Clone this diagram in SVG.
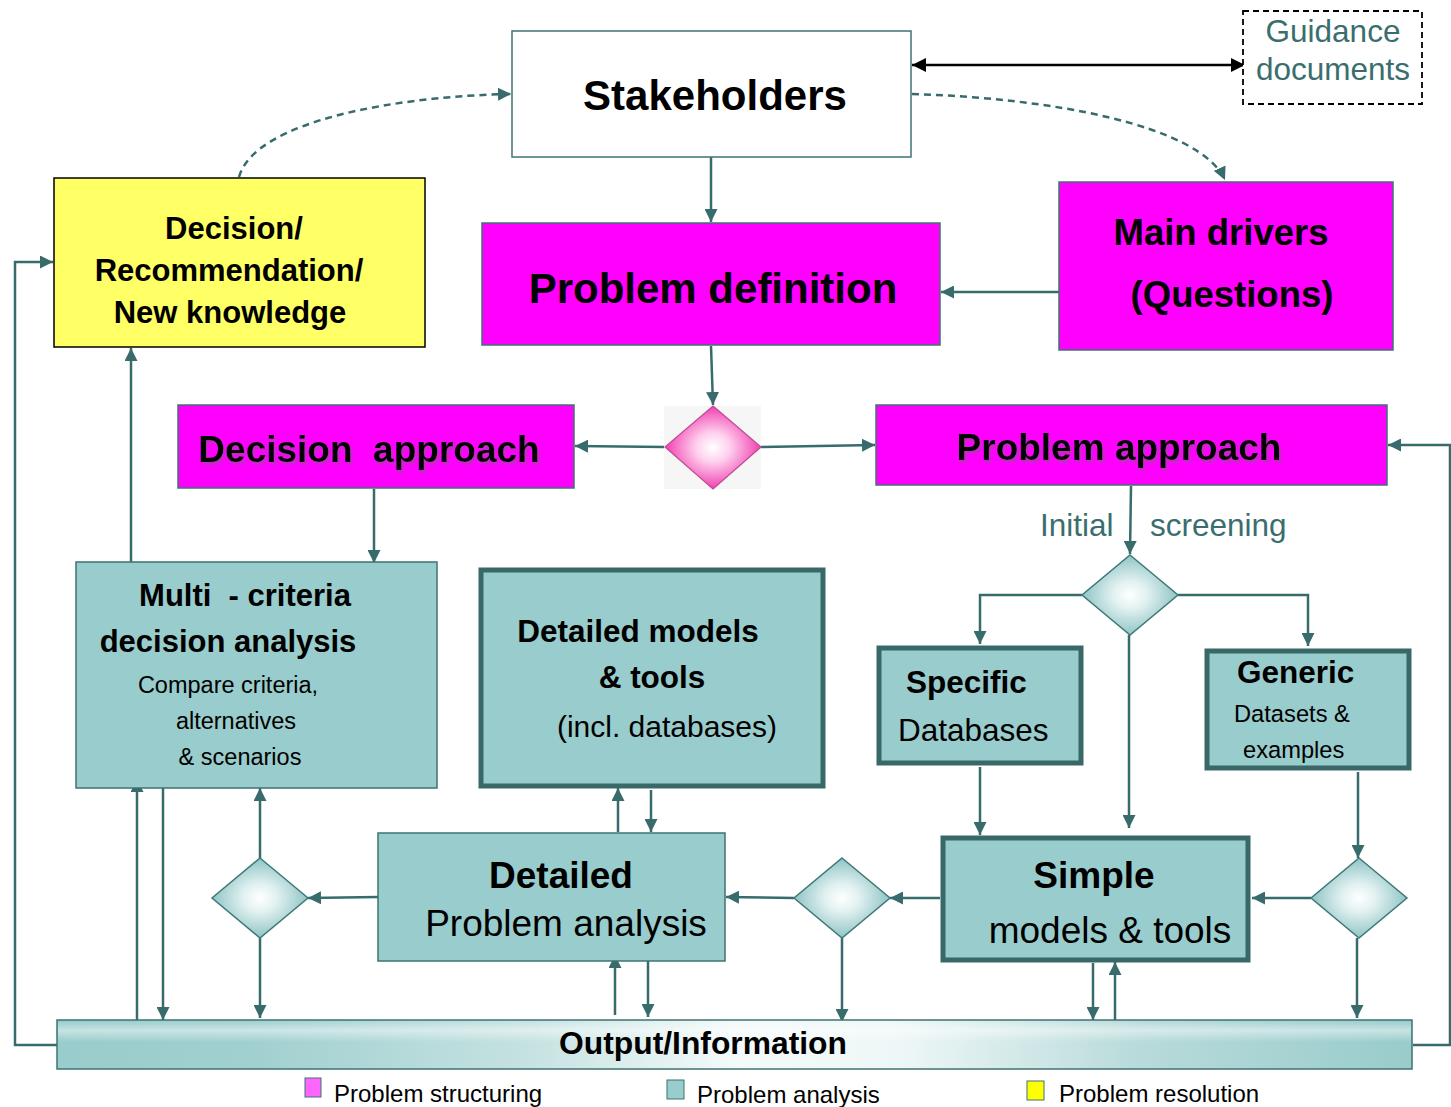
<svg xmlns="http://www.w3.org/2000/svg" width="1451" height="1107" viewBox="0 0 1451 1107">
<style>
text{font-family:"Liberation Sans",Arial,sans-serif;fill:#000}
.b{font-weight:bold}
.c{text-anchor:middle}
.teal{fill:#3a6e6e}
.conn{fill:none;stroke:#386b6b;stroke-width:2.5}
.box-thin{stroke:#3f7373;stroke-width:1.5}
.box-thick{fill:#99cccc;stroke:#386868;stroke-width:5}
.tealfill{fill:#99cccc}
.mag{fill:#ff00ff;stroke:#3f7373;stroke-width:1.5}
.dia{fill:url(#gT);stroke:#3f7878;stroke-width:1.5}
</style>
<defs>
<marker id="a" viewBox="0 0 12 12" refX="12" refY="6" markerWidth="13" markerHeight="13" markerUnits="userSpaceOnUse" orient="auto"><path d="M0,0 L12,6 L0,12 z" fill="#386b6b"/></marker>
<marker id="k" viewBox="0 0 12 12" refX="12" refY="6" markerWidth="14" markerHeight="14" markerUnits="userSpaceOnUse" orient="auto-start-reverse"><path d="M0,0 L12,6 L0,12 z" fill="#000"/></marker>
<radialGradient id="gT" cx="0.5" cy="0.5" r="0.5"><stop offset="0" stop-color="#ffffff"/><stop offset="0.35" stop-color="#e2f1f1"/><stop offset="1" stop-color="#8fc4c4"/></radialGradient>
<radialGradient id="gP" cx="0.5" cy="0.5" r="0.5"><stop offset="0" stop-color="#ffffff"/><stop offset="0.35" stop-color="#ffd0ee"/><stop offset="1" stop-color="#f040b0"/></radialGradient>
<linearGradient id="gO" x1="0" y1="0" x2="1" y2="0"><stop offset="0" stop-color="#99cccc"/><stop offset="0.15" stop-color="#a2d0d0"/><stop offset="0.35" stop-color="#c6e2e2"/><stop offset="0.5" stop-color="#f4fafa"/><stop offset="0.62" stop-color="#eef7f7"/><stop offset="0.8" stop-color="#b8dada"/><stop offset="1" stop-color="#99cccc"/></linearGradient>
<linearGradient id="gV" x1="0" y1="0" x2="0" y2="1"><stop offset="0" stop-color="#ffffff" stop-opacity="0"/><stop offset="0.2" stop-color="#ffffff" stop-opacity="0.45"/><stop offset="0.45" stop-color="#ffffff" stop-opacity="0"/><stop offset="1" stop-color="#ffffff" stop-opacity="0"/></linearGradient>
<filter id="sh" x="-5%" y="-20%" width="110%" height="150%"><feDropShadow dx="2" dy="3" stdDeviation="1" flood-color="#9a4a9a" flood-opacity="0.6"/></filter>
</defs>

<rect width="1451" height="1107" fill="#fff"/>

<g id="connectors">
<path class="conn" d="M239,177 C255,120 400,96 511,94" stroke-dasharray="7,5" marker-end="url(#a)"/>
<path class="conn" d="M912,94 C1050,98 1200,125 1225,180" stroke-dasharray="7,5" marker-end="url(#a)"/>
<line x1="912" y1="65" x2="1245" y2="65" stroke="#000" stroke-width="2.5" marker-start="url(#k)" marker-end="url(#k)"/>
<line class="conn" x1="711" y1="157" x2="711" y2="222" marker-end="url(#a)"/>
<line class="conn" x1="1059" y1="292" x2="941" y2="292" marker-end="url(#a)"/>
<line class="conn" x1="711" y1="346" x2="713" y2="405" marker-end="url(#a)"/>
<line class="conn" x1="665" y1="447" x2="575" y2="446" marker-end="url(#a)"/>
<line class="conn" x1="761" y1="447" x2="875" y2="445" marker-end="url(#a)"/>
<line class="conn" x1="374" y1="489" x2="374" y2="563" marker-end="url(#a)"/>
<line class="conn" x1="131" y1="564" x2="131" y2="348" marker-end="url(#a)"/>
<polyline class="conn" points="57,1045 15,1045 15,262 53,262" marker-end="url(#a)"/>
<polyline class="conn" points="1413,1045 1450,1045 1450,445 1388,445" marker-end="url(#a)"/>
<line class="conn" x1="1131" y1="486" x2="1130" y2="554" marker-end="url(#a)"/>
<polyline class="conn" points="1082,595 980,595 980,644" marker-end="url(#a)"/>
<polyline class="conn" points="1178,595 1308,595 1308,646" marker-end="url(#a)"/>
<line class="conn" x1="1129" y1="635" x2="1129" y2="828" marker-end="url(#a)"/>
<line class="conn" x1="980" y1="767" x2="980" y2="835" marker-end="url(#a)"/>
<line class="conn" x1="1358" y1="772" x2="1358" y2="858" marker-end="url(#a)"/>
<line class="conn" x1="1311" y1="898" x2="1252" y2="898" marker-end="url(#a)"/>
<line class="conn" x1="1357" y1="938" x2="1357" y2="1018" marker-end="url(#a)"/>
<line class="conn" x1="940" y1="898" x2="890" y2="898" marker-end="url(#a)"/>
<line class="conn" x1="794" y1="898" x2="726" y2="897" marker-end="url(#a)"/>
<line class="conn" x1="842" y1="938" x2="842" y2="1022" marker-end="url(#a)"/>
<line class="conn" x1="1093" y1="963" x2="1093" y2="1020" marker-end="url(#a)"/>
<line class="conn" x1="1115" y1="1020" x2="1115" y2="962" marker-end="url(#a)"/>
<line class="conn" x1="378" y1="897" x2="308" y2="898" marker-end="url(#a)"/>
<line class="conn" x1="260" y1="858" x2="260" y2="788" marker-end="url(#a)"/>
<line class="conn" x1="260" y1="938" x2="260" y2="1018" marker-end="url(#a)"/>
<line class="conn" x1="615" y1="1015" x2="615" y2="955" marker-end="url(#a)"/>
<line class="conn" x1="648" y1="958" x2="648" y2="1017" marker-end="url(#a)"/>
<line class="conn" x1="618" y1="832" x2="618" y2="788" marker-end="url(#a)"/>
<line class="conn" x1="651" y1="790" x2="651" y2="832" marker-end="url(#a)"/>
<line class="conn" x1="137" y1="1020" x2="137" y2="779" marker-end="url(#a)"/>
<line class="conn" x1="163" y1="782" x2="163" y2="1020" marker-end="url(#a)"/>
</g>

<g id="stakeholders">
<rect x="512" y="31" width="399" height="126" fill="#fff" class="box-thin"/>
<text class="b c" x="715" y="110" font-size="42">Stakeholders</text>
</g>

<g id="guidance">
<rect x="1243" y="11" width="179" height="93" fill="#fff" stroke="#000" stroke-width="1.8" stroke-dasharray="6,4"/>
<text class="c teal" x="1333" y="42" font-size="31.5">Guidance</text>
<text class="c teal" x="1333" y="80" font-size="31.5">documents</text>
</g>

<g id="decision">
<rect x="54" y="178" width="371" height="169" fill="#ffff66" stroke="#000" stroke-width="1.5"/>
<text class="b c" x="234" y="239" font-size="31">Decision/</text>
<text class="b c" x="229" y="281" font-size="31">Recommendation/</text>
<text class="b c" x="230" y="323" font-size="31">New knowledge</text>
</g>

<g id="problem-definition">
<rect x="482" y="223" width="458" height="122" class="mag"/>
<text class="b c" x="713" y="303" font-size="42">Problem definition</text>
</g>

<g id="main-drivers">
<rect x="1059" y="182" width="334" height="168" class="mag"/>
<text class="b c" x="1221" y="245" font-size="36.5">Main drivers</text>
<text class="b c" x="1232" y="307" font-size="36.5">(Questions)</text>
</g>

<g id="pink-diamond">
<rect x="664" y="406" width="97" height="83" fill="#f6f6f6"/>
<polygon points="713,406 761,447 713,489 665,447" fill="url(#gP)" stroke="#c04a90" stroke-width="1.2"/>
</g>

<g id="decision-approach">
<rect x="178" y="405" width="396" height="83" class="mag"/>
<text class="b c" x="369" y="462" font-size="37" filter="url(#sh)" xml:space="preserve">Decision  approach</text>
</g>

<g id="problem-approach">
<rect x="876" y="405" width="511" height="80" class="mag"/>
<text class="b c" x="1119" y="460" font-size="37" filter="url(#sh)">Problem approach</text>
</g>

<g id="initial-screening">
<text class="teal" x="1040" y="536" font-size="31.5">Initial</text>
<text class="teal" x="1150" y="536" font-size="31.5">screening</text>
</g>

<g id="screening-diamond">
<polygon points="1130,555 1178,595 1130,635 1082,595" class="dia"/>
</g>

<g id="mcda">
<rect x="76" y="562" width="361" height="226" class="tealfill box-thin"/>
<text class="b c" x="245" y="606" font-size="31" xml:space="preserve">Multi  - criteria</text>
<text class="b c" x="228" y="652" font-size="31">decision analysis</text>
<text class="c" x="228" y="693" font-size="23.5">Compare criteria,</text>
<text class="c" x="236" y="729" font-size="23.5">alternatives</text>
<text class="c" x="240" y="765" font-size="23.5">&amp; scenarios</text>
</g>

<g id="detailed-models">
<rect x="481" y="570" width="342" height="216" class="box-thick"/>
<text class="b c" x="638" y="642" font-size="31.5">Detailed models</text>
<text class="b c" x="652" y="688" font-size="31.5">&amp; tools</text>
<text class="c" x="667" y="737" font-size="30">(incl. databases)</text>
</g>

<g id="specific">
<rect x="879" y="648" width="202" height="115" class="box-thick"/>
<text class="b" x="906" y="693" font-size="31.5">Specific</text>
<text x="898" y="741" font-size="31.5">Databases</text>
</g>

<g id="generic">
<rect x="1207" y="651" width="202" height="117" class="box-thick"/>
<text class="b" x="1237" y="683" font-size="31.5">Generic</text>
<text x="1234" y="722" font-size="23.7">Datasets &amp;</text>
<text x="1243" y="758" font-size="23.7">examples</text>
</g>

<g id="left-diamond">
<polygon points="260,858 308,898 260,938 212,898" class="dia"/>
</g>

<g id="detailed-analysis">
<rect x="378" y="833" width="347" height="128" class="tealfill box-thin"/>
<text class="b c" x="561" y="888" font-size="37">Detailed</text>
<text class="c" x="566" y="936" font-size="37">Problem analysis</text>
</g>

<g id="middle-diamond">
<polygon points="842,858 890,898 842,938 794,898" class="dia"/>
</g>

<g id="simple">
<rect x="943" y="838" width="305" height="122" class="box-thick"/>
<text class="b c" x="1094" y="888" font-size="37">Simple</text>
<text class="c" x="1110" y="943" font-size="37">models &amp; tools</text>
</g>

<g id="right-diamond">
<polygon points="1359,858 1407,898 1359,938 1311,898" class="dia"/>
</g>

<g id="output">
<rect x="57" y="1020" width="1355" height="49" fill="url(#gO)" class="box-thin"/>
<rect x="58" y="1021" width="1353" height="47" fill="url(#gV)"/>
<text class="b c" x="703" y="1054" font-size="31.8">Output/Information</text>
</g>

<g id="legend">
<rect x="305" y="1078" width="16" height="19" fill="#ff66ff" stroke="#3f7373" stroke-width="1"/>
<text x="334" y="1102" font-size="24">Problem structuring</text>
<rect x="667" y="1080" width="17" height="19" fill="#99cccc" stroke="#3f7373" stroke-width="1"/>
<text x="697" y="1103" font-size="24">Problem analysis</text>
<rect x="1027" y="1081" width="17" height="19" fill="#ffff00" stroke="#3f7373" stroke-width="1"/>
<text x="1059" y="1102" font-size="24">Problem resolution</text>
</g>
</svg>
